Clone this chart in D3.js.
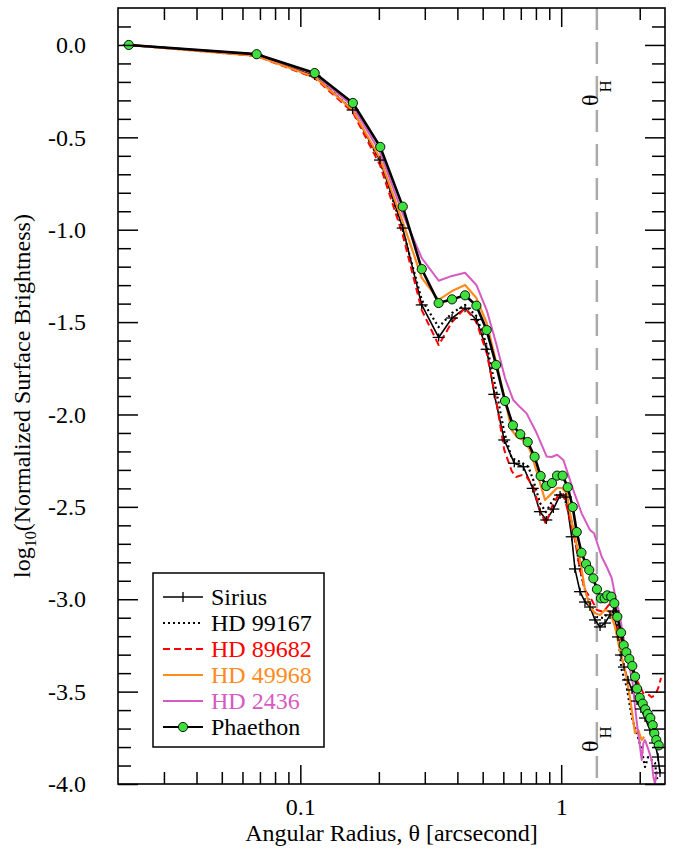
<!DOCTYPE html>
<html>
<head>
<meta charset="utf-8">
<script src="https://cdn.jsdelivr.net/npm/d3@7"></script>
<style>
  body { margin: 0; background: #fff; }
  text { font-family: "Liberation Serif", "DejaVu Serif", serif; }
</style>
</head>
<body>
<div id="viz-container"></div>
<script>
// angular radius (arcsec) and log10 normalized surface brightness
let siriusX = [0.022,0.068,0.1135,0.1586,0.202,0.247,0.292,0.339,0.3815,0.428,0.473,0.518,0.554,0.605,0.661,0.716,0.778,0.829,0.877,0.933,0.990,1.043,1.097,1.129,1.181,1.234,1.289,1.348,1.409,1.472,1.539,1.587,1.651,1.696,1.741,1.804,1.868,1.953,2.022,2.096,2.190,2.289,2.350,2.392];
let siriusY = [0,-0.054,-0.168,-0.352,-0.623,-0.991,-1.407,-1.583,-1.478,-1.425,-1.486,-1.647,-1.891,-2.138,-2.264,-2.283,-2.40,-2.526,-2.571,-2.512,-2.436,-2.447,-2.662,-2.836,-2.959,-3.015,-3.042,-3.112,-3.150,-3.129,-3.085,-3.064,-3.204,-3.302,-3.367,-3.437,-3.491,-3.551,-3.594,-3.643,-3.708,-3.778,-3.854,-3.94];

let hd99167X = [0.022,0.068,0.1135,0.1586,0.202,0.247,0.292,0.339,0.3815,0.428,0.473,0.518,0.563,0.605,0.646,0.695,0.748,0.782,0.829,0.874,0.920,0.975,1.019,1.074,1.129,1.181,1.234,1.289,1.368,1.450,1.515,1.585,1.636,1.706,1.783,1.863,1.947,2.035,2.096,2.153,2.223,2.289,2.323,2.356];
let hd99167Y = [0,-0.054,-0.168,-0.352,-0.628,-1.002,-1.38,-1.527,-1.451,-1.407,-1.467,-1.624,-1.868,-2.095,-2.236,-2.256,-2.283,-2.355,-2.479,-2.528,-2.474,-2.427,-2.436,-2.533,-2.663,-2.841,-2.95,-3.022,-3.096,-3.102,-3.075,-3.058,-3.14,-3.383,-3.475,-3.637,-3.724,-3.816,-3.908,-3.854,-3.87,-3.886,-3.962,-3.989];

let hd89682X = [0.022,0.068,0.1135,0.1586,0.202,0.247,0.292,0.339,0.3815,0.428,0.473,0.518,0.563,0.605,0.646,0.671,0.706,0.737,0.782,0.829,0.874,0.920,0.975,1.019,1.074,1.129,1.181,1.234,1.309,1.371,1.450,1.539,1.594,1.651,1.725,1.804,1.890,1.975,2.064,2.151,2.223,2.289,2.356,2.414];
let hd89682Y = [0,-0.06,-0.179,-0.363,-0.65,-1.029,-1.435,-1.624,-1.5,-1.424,-1.5,-1.667,-1.922,-2.192,-2.306,-2.338,-2.328,-2.338,-2.393,-2.517,-2.593,-2.501,-2.436,-2.43,-2.55,-2.68,-2.841,-2.95,-3.004,-3.058,-3.068,-3.022,-3.04,-3.166,-3.248,-3.329,-3.4,-3.453,-3.508,-3.514,-3.53,-3.52,-3.48,-3.426];

let hd49968X = [0.022,0.068,0.1135,0.1586,0.202,0.247,0.292,0.339,0.3815,0.428,0.473,0.518,0.563,0.609,0.646,0.675,0.716,0.759,0.806,0.867,0.920,0.964,1.007,1.050,1.081,1.129,1.181,1.234,1.289,1.348,1.409,1.472,1.539,1.608,1.680,1.756,1.824,1.880,1.919,1.975,2.035,2.082];
let hd49968Y = [0,-0.06,-0.173,-0.352,-0.612,-0.958,-1.261,-1.38,-1.332,-1.299,-1.37,-1.505,-1.716,-1.922,-2.084,-2.12,-2.138,-2.192,-2.31,-2.463,-2.427,-2.398,-2.398,-2.427,-2.533,-2.663,-2.788,-2.95,-3.04,-3.076,-3.085,-3.058,-3.067,-3.15,-3.275,-3.383,-3.508,-3.637,-3.724,-3.708,-3.762,-3.744];

let hd2436X = [0.022,0.068,0.1135,0.1586,0.202,0.247,0.292,0.339,0.3815,0.428,0.473,0.518,0.563,0.609,0.655,0.695,0.737,0.806,0.880,0.920,0.965,1.019,1.113,1.198,1.289,1.336,1.430,1.494,1.562,1.608,1.680,1.730,1.783,1.824,1.880,1.919,1.958,2.005,2.035,2.064,2.096,2.151,2.223,2.255,2.289,2.323];
let hd2436Y = [0,-0.05,-0.157,-0.33,-0.58,-0.915,-1.153,-1.276,-1.25,-1.233,-1.299,-1.435,-1.615,-1.803,-1.922,-1.96,-1.994,-2.102,-2.228,-2.23,-2.218,-2.246,-2.409,-2.535,-2.625,-2.643,-2.77,-2.824,-2.885,-2.977,-3.094,-3.203,-3.293,-3.36,-3.455,-3.582,-3.69,-3.798,-3.87,-3.78,-3.762,-3.807,-3.87,-3.96,-4.0,-3.93];

let phaethonX = [0.022,0.068,0.1135,0.159,0.2025,0.247,0.292,0.339,0.3815,0.428,0.473,0.518,0.563,0.609,0.653,0.697,0.744,0.791,0.834,0.877,0.922,0.964,1.013,1.059,1.107,1.147,1.196,1.245,1.281,1.328,1.371,1.421,1.468,1.502,1.556,1.598,1.641,1.696,1.736,1.777,1.824,1.873,1.919,1.953,2.0,2.053,2.101,2.146,2.196,2.243,2.275,2.315,2.365];
let phaethonY = [0,-0.05,-0.152,-0.314,-0.552,-0.875,-1.213,-1.397,-1.377,-1.355,-1.411,-1.543,-1.732,-1.927,-2.059,-2.107,-2.149,-2.229,-2.333,-2.387,-2.371,-2.331,-2.331,-2.394,-2.501,-2.636,-2.748,-2.809,-2.842,-2.887,-2.946,-2.995,-2.995,-2.979,-2.986,-3.022,-3.095,-3.181,-3.249,-3.287,-3.323,-3.361,-3.419,-3.484,-3.533,-3.565,-3.596,-3.621,-3.643,-3.682,-3.726,-3.762,-3.791];

let thetaH = 1.37;

let xMajor = [0.1, 1];
let xMajorLabels = ["0.1", "1"];
let xMinor = [0.03,0.04,0.05,0.06,0.07,0.08,0.09,0.2,0.3,0.4,0.5,0.6,0.7,0.8,0.9,2];
let yMajor = [0.0,-0.5,-1.0,-1.5,-2.0,-2.5,-3.0,-3.5,-4.0];
let yMinor = [0.1,-0.1,-0.2,-0.3,-0.4,-0.6,-0.7,-0.8,-0.9,-1.1,-1.2,-1.3,-1.4,-1.6,-1.7,-1.8,-1.9,-2.1,-2.2,-2.3,-2.4,-2.6,-2.7,-2.8,-2.9,-3.1,-3.2,-3.3,-3.4,-3.6,-3.7,-3.8,-3.9];

let names = ["Sirius","HD 99167","HD 89682","HD 49968","HD 2436","Phaethon"];
let textColors = ["#000","#000","#ff0000","#ff8a1e","#d65ac2","#000"];

let pLeft = 118, pRight = 665, pTop = 8, pBottom = 784;

let viz = d3.select("#viz-container")
  .append("svg")
    .attr("width", 678)
    .attr("height", 854);

let x = d3.scaleLog().domain([0.02, 2.5]).range([pLeft, pRight]);
let y = d3.scaleLinear().domain([-4.0, 0.2]).range([pBottom, pTop]);

viz.append("clipPath").attr("id","plotclip")
  .append("rect").attr("x",pLeft).attr("y",pTop).attr("width",pRight-pLeft).attr("height",pBottom-pTop);

function zip(xs, ys){
  return xs.map(function(d,i){ return [d, ys[i]]; });
}

let line = d3.line().x(d => x(d[0])).y(d => y(d[1]));

// theta_H dashed line
viz.append("line")
  .attr("x1", x(thetaH)).attr("x2", x(thetaH))
  .attr("y1", pTop).attr("y2", pBottom)
  .attr("stroke", "#aaaaaa")
  .attr("stroke-width", 2.5)
  .attr("stroke-dasharray", "22,12");

function thetaLabel(yy){
  let t = viz.append("text")
    .attr("transform", "translate(" + (x(thetaH)+1) + "," + yy + ") rotate(-90)")
    .attr("font-size", 24);
  t.append("tspan").text("θ");
  t.append("tspan").attr("font-size", 17).attr("dy", 13).attr("dx", 2).text("H");
}
thetaLabel(106);
thetaLabel(752);

let plot = viz.append("g").attr("clip-path", "url(#plotclip)");

let series = [
  {data: zip(siriusX, siriusY), color: "#000", width: 1.6, dash: null},
  {data: zip(hd99167X, hd99167Y), color: "#000", width: 2.2, dash: "2,3"},
  {data: zip(hd89682X, hd89682Y), color: "#ff0000", width: 2, dash: "7,4"},
  {data: zip(hd49968X, hd49968Y), color: "#ff8a1e", width: 2.2, dash: null},
  {data: zip(hd2436X, hd2436Y), color: "#d65ac2", width: 2, dash: null},
  {data: zip(phaethonX, phaethonY), color: "#000", width: 2.6, dash: null}
];

plot.selectAll(".curve").data(series).enter()
  .append("path")
    .attr("class","curve")
    .attr("d", d => line(d.data))
    .attr("fill","none")
    .attr("stroke", d => d.color)
    .attr("stroke-width", d => d.width)
    .attr("stroke-dasharray", d => d.dash)
    .attr("stroke-linejoin","round");

// Sirius + markers
let plus = plot.selectAll(".plus").data(series[0].data).enter()
  .append("g").attr("class","plus")
  .attr("transform", d => "translate(" + x(d[0]) + "," + y(d[1]) + ")");
plus.append("line").attr("x1",-6).attr("x2",6).attr("stroke","#000").attr("stroke-width",1.3);
plus.append("line").attr("y1",-4).attr("y2",4).attr("stroke","#000").attr("stroke-width",1.3);

// Phaethon points
viz.selectAll(".dot").data(series[5].data).enter()
  .append("circle")
    .attr("class","dot")
    .attr("cx", d => x(d[0]))
    .attr("cy", d => y(d[1]))
    .attr("r", 4.6)
    .attr("fill", "#3ee03e")
    .attr("stroke", "#000")
    .attr("stroke-width", 0.9);

// axes, ticks pointing inward
function styleAxis(g){
  g.select(".domain").remove();
  g.selectAll(".tick line").attr("stroke","#000").attr("stroke-width",1.5);
  g.selectAll("text").attr("font-family","Liberation Serif").attr("font-size",24).attr("fill","#000");
}

viz.append("g").attr("transform","translate(0,"+pBottom+")")
  .call(d3.axisBottom(x).tickValues(xMajor).tickSize(-19).tickPadding(14)
    .tickFormat((d,i) => xMajorLabels[i]))
  .call(styleAxis);
viz.append("g").attr("transform","translate(0,"+pBottom+")")
  .call(d3.axisBottom(x).tickValues(xMinor).tickSize(-12).tickFormat(""))
  .call(styleAxis);
viz.append("g").attr("transform","translate(0,"+pTop+")")
  .call(d3.axisTop(x).tickValues(xMajor).tickSize(-19).tickFormat(""))
  .call(styleAxis);
viz.append("g").attr("transform","translate(0,"+pTop+")")
  .call(d3.axisTop(x).tickValues(xMinor).tickSize(-12).tickFormat(""))
  .call(styleAxis);

viz.append("g").attr("transform","translate("+pLeft+",0)")
  .call(d3.axisLeft(y).tickValues(yMajor).tickSize(-20).tickPadding(32)
    .tickFormat(d => d.toFixed(1)))
  .call(styleAxis);
viz.append("g").attr("transform","translate("+pLeft+",0)")
  .call(d3.axisLeft(y).tickValues(yMinor).tickSize(-13).tickFormat(""))
  .call(styleAxis);
viz.append("g").attr("transform","translate("+pRight+",0)")
  .call(d3.axisRight(y).tickValues(yMajor).tickSize(-20).tickFormat(""))
  .call(styleAxis);
viz.append("g").attr("transform","translate("+pRight+",0)")
  .call(d3.axisRight(y).tickValues(yMinor).tickSize(-13).tickFormat(""))
  .call(styleAxis);

// frame
viz.append("rect")
  .attr("x",pLeft).attr("y",pTop).attr("width",pRight-pLeft).attr("height",pBottom-pTop)
  .attr("fill","none").attr("stroke","#000").attr("stroke-width",1.6);

// axis titles
viz.append("text")
  .attr("x", (pLeft+pRight)/2).attr("y", 841)
  .attr("text-anchor","middle").attr("font-size",24)
  .text("Angular Radius, θ [arcsecond]");

let yt = viz.append("text")
  .attr("transform","translate(30," + (pTop+pBottom)/2 + ") rotate(-90)")
  .attr("text-anchor","middle").attr("font-size",24);
yt.append("tspan").text("log");
yt.append("tspan").attr("font-size",16).attr("dy",6).text("10");
yt.append("tspan").attr("dy",-6).text("(Normalized Surface Brightness)");

// legend
let legend = viz.append("g");
legend.append("rect")
  .attr("x",153).attr("y",573).attr("width",171).attr("height",174)
  .attr("fill","#fff").attr("stroke","#000").attr("stroke-width",1.5);

let rows = legend.selectAll(".row").data(series).enter()
  .append("g").attr("class","row")
  .attr("transform", (d,i) => "translate(0," + (597 + i*26) + ")");
rows.append("line")
  .attr("x1",163).attr("x2",203)
  .attr("stroke", d => d.color)
  .attr("stroke-width", (d,i) => i == 5 ? 2 : d.width)
  .attr("stroke-dasharray", d => d.dash);
rows.append("text")
  .attr("x",211).attr("y",8)
  .attr("font-size",24)
  .attr("fill", (d,i) => textColors[i])
  .text((d,i) => names[i]);
rows.filter((d,i) => i == 0).append("line")
  .attr("x1",183).attr("x2",183).attr("y1",-5).attr("y2",5)
  .attr("stroke","#000").attr("stroke-width",1.3);
rows.filter((d,i) => i == 5).append("circle")
  .attr("cx",183).attr("cy",0).attr("r",4.6)
  .attr("fill","#3ee03e").attr("stroke","#000").attr("stroke-width",0.9);
</script>
</body>
</html>
